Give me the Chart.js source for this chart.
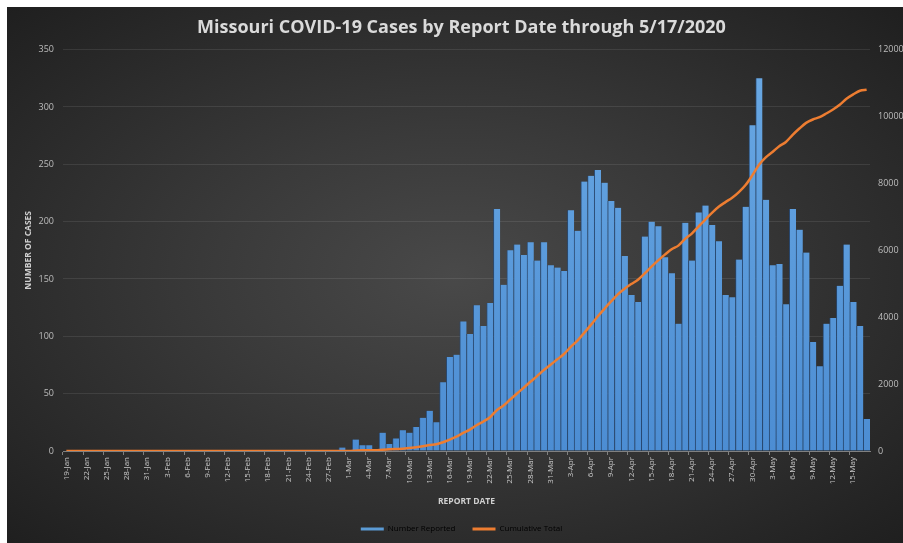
<!DOCTYPE html>
<html>
<head>
<meta charset="utf-8">
<script src="https://cdn.jsdelivr.net/npm/chart.js@4.4.0/dist/chart.umd.min.js"></script>
<style>
  html, body { margin: 0; padding: 0; background: #fff; overflow: hidden; }
  #bg {
    position: absolute; left: 7px; top: 7px; width: 896px; height: 536px;
    background: radial-gradient(ellipse farthest-corner at 50% 50%, #494949 0%, #3a3a3a 38%, #1f1f1f 100%);
  }
  #myChart { position: absolute; left: 0; top: 0; }
</style>
</head>
<body>
<div id="bg"></div>
<canvas id="myChart" width="903" height="543"></canvas>

<script>
  // report dates, 19-Jan .. 17-May 2020
  const dates = [
    "19-Jan","20-Jan","21-Jan","22-Jan","23-Jan","24-Jan","25-Jan","26-Jan","27-Jan","28-Jan","29-Jan","30-Jan","31-Jan",
    "1-Feb","2-Feb","3-Feb","4-Feb","5-Feb","6-Feb","7-Feb","8-Feb","9-Feb","10-Feb","11-Feb","12-Feb","13-Feb","14-Feb","15-Feb",
    "16-Feb","17-Feb","18-Feb","19-Feb","20-Feb","21-Feb","22-Feb","23-Feb","24-Feb","25-Feb","26-Feb","27-Feb","28-Feb","29-Feb",
    "1-Mar","2-Mar","3-Mar","4-Mar","5-Mar","6-Mar","7-Mar","8-Mar","9-Mar","10-Mar","11-Mar","12-Mar","13-Mar","14-Mar","15-Mar",
    "16-Mar","17-Mar","18-Mar","19-Mar","20-Mar","21-Mar","22-Mar","23-Mar","24-Mar","25-Mar","26-Mar","27-Mar","28-Mar","29-Mar",
    "30-Mar","31-Mar",
    "1-Apr","2-Apr","3-Apr","4-Apr","5-Apr","6-Apr","7-Apr","8-Apr","9-Apr","10-Apr","11-Apr","12-Apr","13-Apr","14-Apr","15-Apr",
    "16-Apr","17-Apr","18-Apr","19-Apr","20-Apr","21-Apr","22-Apr","23-Apr","24-Apr","25-Apr","26-Apr","27-Apr","28-Apr","29-Apr",
    "30-Apr",
    "1-May","2-May","3-May","4-May","5-May","6-May","7-May","8-May","9-May","10-May","11-May","12-May","13-May","14-May","15-May",
    "16-May","17-May"
  ];

  // Number Reported (left axis)
  const numberReported = [
    0,0,0,0,0,0,0,0,0,0,0,0,0,
    0,0,0,0,0,0,0,0,0,0,0,0,0,0,0,0,0,0,0,0,0,0,0,0,0,0,0,0,3,
    0,10,5,5,0,16,6,11,18,16,21,29,35,25,60,82,84,113,102,127,109,129,211,145,175,180,171,182,166,182,
    162,160,157,210,192,235,240,245,234,218,212,170,136,130,187,200,196,169,155,111,199,166,208,214,197,183,136,134,167,213,284,
    325,219,162,163,128,211,193,173,95,74,111,116,144,180,130,109,28
  ];

  // Cumulative Total (right axis)
  const cumulativeTotal = [
    0,0,0,0,0,0,0,0,0,0,0,0,0,
    0,0,0,0,0,0,0,0,0,0,0,0,0,0,0,0,0,0,0,0,0,0,0,0,0,0,0,0,0,
    0,10,20,20,20,40,50,60,70,90,110,140,180,200,260,340,430,540,640,770,880,1010,1220,1360,1540,1720,1890,2070,2240,2420,
    2580,2740,2900,3110,3300,3530,3770,4020,4250,4470,4680,4850,4990,5120,5310,5510,5700,5870,6030,6140,6340,6500,6710,6920,7120,7300,7440,7570,7740,7950,8240,
    8560,8780,8940,9110,9240,9450,9640,9810,9910,9980,10090,10210,10350,10530,10660,10770,10800
  ];

  const leftTicks = [0, 350, 50];
  const rightTicks = [0, 12000, 2000];

  Chart.defaults.font.family = "'Open Sans', 'Liberation Sans', sans-serif";

  function barFill(context) {
    const chart = context.chart;
    const area = chart.chartArea;
    if (!area) return '#5b9bd5';
    const g = chart.ctx.createLinearGradient(0, area.top, 0, area.bottom);
    g.addColorStop(0, '#6aa9e4');
    g.addColorStop(1, '#4c8dd3');
    return g;
  }

  new Chart("myChart", {
    type: "bar",
    data: {
      labels: dates,
      datasets: [
        {
          label: "Number Reported",
          data: numberReported,
          backgroundColor: barFill,
          borderColor: 'rgba(35,75,125,0.75)',
          borderWidth: {left: 1, right: 0, top: 0, bottom: 0},
          barPercentage: 1,
          categoryPercentage: 1,
          yAxisID: 'y',
          order: 2
        },
        {
          type: "line",
          label: "Cumulative Total",
          data: cumulativeTotal,
          borderColor: '#ed7d31',
          backgroundColor: '#ed7d31',
          borderWidth: 2.5,
          pointRadius: 0,
          cubicInterpolationMode: 'monotone',
          yAxisID: 'y1',
          order: 1
        }
      ]
    },
    options: {
      responsive: false,
      animation: false,
      layout: { padding: { left: 20, right: 0, top: 0, bottom: 0 } },
      plugins: {
        tooltip: { enabled: false },
        title: {
          display: true,
          text: "Missouri COVID-19 Cases by Report Date through 5/17/2020",
          color: '#dadada',
          font: { size: 18, weight: 'bold' },
          padding: { top: 17, bottom: 11 }
        },
        legend: {
          position: 'bottom',
          labels: {
            boxWidth: 23,
            boxHeight: 3,
            padding: 17,
            color: '#c0c0c0',
            font: { size: 8 },
            generateLabels: function(chart) {
              return [
                { text: "Number Reported", fillStyle: '#5b9bd5', strokeStyle: '#5b9bd5', lineWidth: 0, datasetIndex: 0 },
                { text: "Cumulative Total", fillStyle: '#ed7d31', strokeStyle: '#ed7d31', lineWidth: 0, datasetIndex: 1 }
              ];
            }
          }
        }
      },
      scales: {
        x: {
          offset: true,
          grid: {
            offset: true,
            drawOnChartArea: false,
            tickLength: 4,
            color: ctx => (ctx.index % 3 === 0 ? '#808080' : 'rgba(0,0,0,0)')
          },
          border: { color: '#808080' },
          ticks: {
            autoSkip: false,
            maxRotation: 90,
            minRotation: 90,
            padding: 2,
            color: '#c8c8c8',
            font: { size: 8 },
            callback: (v, i) => (i % 3 === 0 ? dates[i] : '')
          },
          title: {
            display: true,
            text: 'REPORT DATE',
            color: '#d0d0d0',
            font: { size: 8.5, weight: 'bold' },
            padding: { top: 4, bottom: 1 }
          },
          afterFit: s => { s.height = 57; }
        },
        y: {
          position: 'left',
          min: leftTicks[0],
          max: leftTicks[1],
          ticks: { stepSize: leftTicks[2], color: '#bdbdbd', font: { size: 9 }, padding: 9 },
          grid: { color: 'rgba(255,255,255,0.09)', drawTicks: false },
          border: { display: false },
          title: {
            display: true,
            text: 'NUMBER OF CASES',
            color: '#d0d0d0',
            font: { size: 8.5, weight: 'bold' },
            padding: { top: 3, bottom: 3 }
          },
          afterFit: s => { s.width = 43; }
        },
        y1: {
          position: 'right',
          min: rightTicks[0],
          max: rightTicks[1],
          ticks: { stepSize: rightTicks[2], color: '#bdbdbd', font: { size: 9 }, padding: 8, callback: v => String(v) },
          grid: { drawOnChartArea: false, drawTicks: false },
          border: { display: false },
          afterFit: s => { s.width = 33; }
        }
      }
    }
  });
</script>
</body>
</html>
